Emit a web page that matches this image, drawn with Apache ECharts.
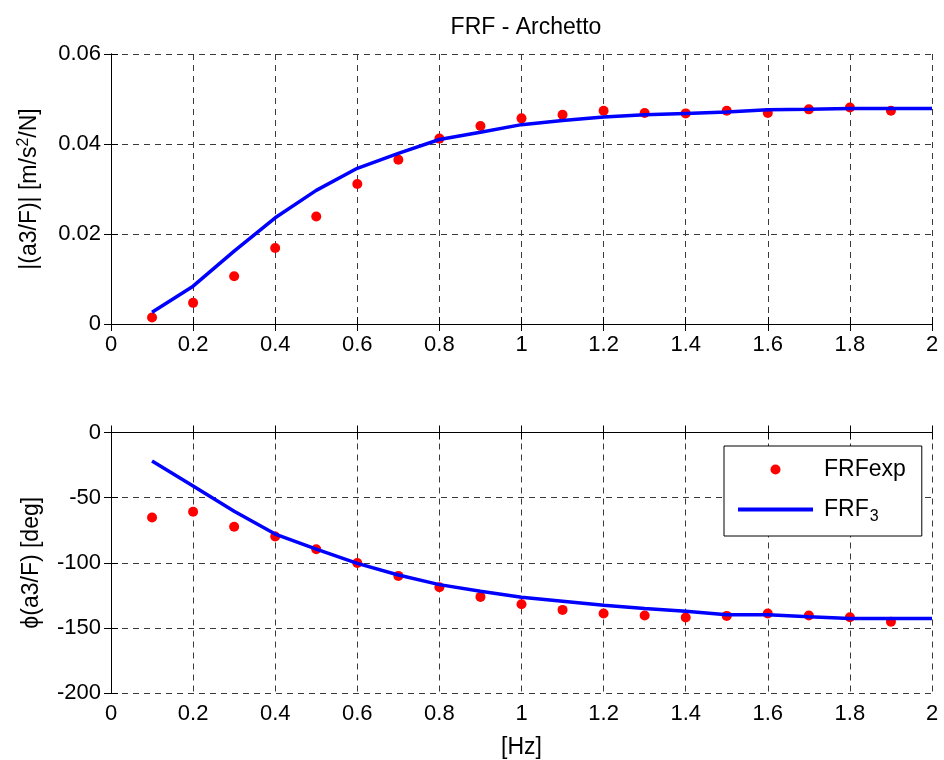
<!DOCTYPE html>
<html>
<head>
<meta charset="utf-8">
<script src="https://cdn.jsdelivr.net/npm/echarts@6/dist/echarts.min.js"></script>
<style>html,body{margin:0;padding:0;background:#fff}#c{width:944px;height:760px}</style>
</head>
<body>
<div id="c"></div>
<script>
// ---- data ----
const expFreq = [0.1,0.2,0.3,0.4,0.5,0.6,0.7,0.8,0.9,1.0,1.1,1.2,1.3,1.4,1.5,1.6,1.7,1.8,1.9];
const expMag  = [0.00145,0.0047,0.0106,0.0169,0.0239,0.0311,0.0365,0.0412,0.0440,0.0457,0.0465,0.0474,0.0469,0.0468,0.0474,0.0469,0.0477,0.0481,0.0474];
const expPhase = [-65.2,-60.9,-72.4,-79.8,-89.7,-100.2,-110.1,-118.8,-126.2,-131.8,-136.2,-139.0,-140.5,-142.0,-140.8,-139.0,-140.5,-141.8,-145.3];
const fitFreq = [0.1,0.2,0.3,0.4,0.5,0.6,0.7,0.8,0.9,1.0,1.1,1.2,1.3,1.4,1.5,1.6,1.7,1.8,1.9,2.0];
const fitMag  = [0.0026,0.0084,0.0162,0.0236,0.0297,0.0346,0.0379,0.0410,0.0426,0.0443,0.0452,0.0460,0.0465,0.0468,0.0471,0.0476,0.0477,0.0479,0.0479,0.0479];
const fitPhase = [-21.8,-41.0,-60.4,-78.0,-89.5,-100.5,-109.4,-116.8,-121.9,-126.5,-129.5,-132.6,-135.1,-137.2,-140.0,-140.0,-141.5,-142.8,-142.8,-142.8];
const titleText = 'FRF - Archetto';
const xName = '[Hz]';
const legendNames = ['FRFexp', 'FRF3'];

const pairs = (xs, ys) => xs.map((x, i) => [x, ys[i]]);
const FONT = "'Liberation Sans', Arial, Helvetica, sans-serif";
const gridLine = { show: true, lineStyle: { color: '#3a3a3a', width: 1, type: [6, 5] } };
const axLine = { show: true, lineStyle: { color: '#000', width: 1 } };
const tick = { show: true, inside: true, length: 7, lineStyle: { color: '#000', width: 1 } };
const lbl = { color: '#000', fontSize: 22, fontFamily: FONT };

function xAxes(gi, showName) {
  return [
    { type: 'value', gridIndex: gi, position: 'bottom', min: 0, max: 2, interval: 0.2,
      axisLine: axLine, axisTick: tick, splitLine: gridLine,
      axisLabel: Object.assign({ margin: 10 }, lbl),
      name: showName ? xName : '', nameLocation: 'middle', nameGap: 43,
      nameTextStyle: { color: '#000', fontSize: 23, fontFamily: FONT } },
    { type: 'value', gridIndex: gi, position: 'top', min: 0, max: 2, interval: 0.2,
      axisLine: axLine, axisTick: tick, splitLine: { show: false }, axisLabel: { show: false } }
  ];
}
function yAxes(gi, min, max, interval, name, rich) {
  return [
    { type: 'value', gridIndex: gi, position: 'left', min: min, max: max, interval: interval,
      axisLine: axLine, axisTick: tick, splitLine: gridLine,
      axisLabel: Object.assign({ margin: 10 }, lbl),
      name: name, nameLocation: 'middle', nameGap: 68,
      nameTextStyle: { color: '#000', fontSize: 23, fontFamily: FONT, rich: rich } },
    { type: 'value', gridIndex: gi, position: 'right', min: min, max: max, interval: interval,
      axisLine: axLine, axisTick: tick, splitLine: { show: false }, axisLabel: { show: false } }
  ];
}

const chart = echarts.init(document.getElementById('c'), null, { renderer: 'canvas' });
chart.setOption({
  animation: false,
  backgroundColor: '#fff',
  textStyle: { fontFamily: FONT },
  title: { text: titleText, left: 521, top: 11, textAlign: 'center',
    textStyle: { color: '#000', fontSize: 23, fontWeight: 'normal', fontFamily: FONT } },
  grid: [
    { left: 111, top: 54, width: 821, height: 270 },
    { left: 111, top: 432.5, width: 821, height: 261 }
  ],
  xAxis: xAxes(0, false).concat(xAxes(1, true)),
  yAxis: yAxes(0, 0, 0.06, 0.02, '{a||(a3/F)| [m/s}{sup|2}{a|/N]}',
      { a: { fontSize: 23, fontFamily: FONT, color: '#000' },
        sup: { fontSize: 16, fontFamily: FONT, color: '#000', padding: [0, 0, 11, 0] } })
    .concat(yAxes(1, -200, 0, 50, 'ϕ(a3/F) [deg]', {})),
  legend: {
    data: [
      { name: legendNames[0], icon: 'circle' },
      { name: legendNames[1], icon: 'path://M0,0L75,0L75,4L0,4Z' }
    ],
    orient: 'vertical',
    left: 724, top: 446,
    padding: [12, 16, 11, 14],
    itemWidth: 75, itemHeight: 10, itemGap: 17,
    borderColor: '#000', borderWidth: 1, backgroundColor: '#fff',
    selectedMode: false,
    formatter: n => n === 'FRF3' ? '{a|FRF}{s|3}' : '{a|FRFexp}',
    textStyle: { color: '#000', fontFamily: FONT, padding: [0, 0, 0, 6],
      rich: { a: { fontSize: 23, lineHeight: 26, fontFamily: FONT, color: '#000' },
              s: { fontSize: 16, fontFamily: FONT, color: '#000', padding: [15, 0, 0, 1] } } }
  },
  series: [
    { name: 'FRFexp', type: 'scatter', xAxisIndex: 0, yAxisIndex: 0, data: pairs(expFreq, expMag),
      symbol: 'circle', symbolSize: 10, itemStyle: { color: '#ff0000', opacity: 1 }, z: 3 },
    { name: 'FRF3', type: 'line', xAxisIndex: 0, yAxisIndex: 0, data: pairs(fitFreq, fitMag),
      showSymbol: false, symbol: 'none', lineStyle: { color: '#0000ff', width: 3.5 }, itemStyle: { color: '#0000ff' }, z: 4 },
    { name: 'FRFexp', type: 'scatter', xAxisIndex: 2, yAxisIndex: 2, data: pairs(expFreq, expPhase),
      symbol: 'circle', symbolSize: 10, itemStyle: { color: '#ff0000', opacity: 1 }, z: 3 },
    { name: 'FRF3', type: 'line', xAxisIndex: 2, yAxisIndex: 2, data: pairs(fitFreq, fitPhase),
      showSymbol: false, symbol: 'none', lineStyle: { color: '#0000ff', width: 3.5 }, itemStyle: { color: '#0000ff' }, z: 4 }
  ]
});
</script>
</body>
</html>
